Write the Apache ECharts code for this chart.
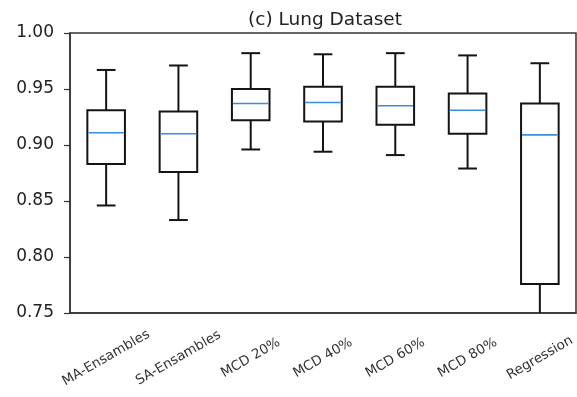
<!DOCTYPE html>
<html>
<head>
<meta charset="utf-8">
<script src="https://cdn.jsdelivr.net/npm/echarts@6/dist/echarts.min.js"></script>
<style>html,body{margin:0;padding:0;background:#fff;}#c{width:577px;height:397px;}</style>
</head>
<body>
<div id="c"></div>
<script>
const categories = ['MA-Ensambles','SA-Ensambles','MCD 20%','MCD 40%','MCD 60%','MCD 80%','Regression'];
const whiskerLow  = [0.846, 0.833, 0.896, 0.894, 0.891, 0.879, 0.700];
const q1          = [0.883, 0.876, 0.922, 0.921, 0.918, 0.910, 0.776];
const median      = [0.911, 0.910, 0.937, 0.938, 0.935, 0.931, 0.909];
const q3          = [0.931, 0.930, 0.950, 0.952, 0.952, 0.946, 0.937];
const whiskerHigh = [0.967, 0.971, 0.982, 0.981, 0.982, 0.980, 0.973];
const yTicks = [0.75, 0.80, 0.85, 0.90, 0.95, 1.00];

const boxData = categories.map((c, i) => [i, whiskerLow[i], q1[i], median[i], q3[i], whiskerHigh[i]]);

const chart = echarts.init(document.getElementById('c'), null, {renderer: 'canvas'});
const dark = '#141414';
chart.setOption({
  animation: false,
  backgroundColor: '#fff',
  title: {
    text: '(c) Lung Dataset',
    left: 320, top: 6, textAlign: 'center',
    textStyle: {fontFamily: 'DejaVu Sans', fontSize: 18.5, fontWeight: 'normal', color: '#222'}
  },
  grid: {left: 70, right: 1, top: 33, bottom: 84, outerBoundsMode: 'none', containLabel: false,
    show: true, borderColor: '#333', borderWidth: 1.5, backgroundColor: '#fff'},
  xAxis: {
    type: 'category', data: categories, boundaryGap: true,
    axisLine: {lineStyle: {color: '#333', width: 1.5}},
    axisTick: {alignWithLabel: true, length: 5, lineStyle: {color: '#333', width: 1.2}},
    axisLabel: {rotate: 30, align: 'center', verticalAlign: 'middle', margin: 45, interval: 0,
      fontFamily: 'DejaVu Sans', fontSize: 13.5, color: '#333'},
    splitLine: {show: false}
  },
  yAxis: {
    type: 'value', min: 0.75, max: 1.00, interval: 0.05,
    axisLine: {show: true, lineStyle: {color: '#333', width: 1.5}},
    axisTick: {show: true, length: 6, lineStyle: {color: '#333', width: 1.2}},
    axisLabel: {formatter: v => v.toFixed(2), fontFamily: 'DejaVu Sans', fontSize: 17, color: '#222', margin: 16},
    splitLine: {show: false}
  },
  series: [{
    type: 'custom',
    clip: true,
    data: boxData,
    renderItem: function (params, api) {
      const x = api.value(0);
      const band = api.size([1, 0])[0];
      const bw = band * 0.52, cw = band * 0.26;
      const pLo = api.coord([x, api.value(1)]);
      const pQ1 = api.coord([x, api.value(2)]);
      const pMed = api.coord([x, api.value(3)]);
      const pQ3 = api.coord([x, api.value(4)]);
      const pHi = api.coord([x, api.value(5)]);
      const cx = pMed[0];
      const ls = {stroke: dark, lineWidth: 2, fill: null};
      return {
        type: 'group',
        children: [
          {type: 'line', shape: {x1: cx, y1: pQ1[1], x2: cx, y2: pLo[1]}, style: ls},
          {type: 'line', shape: {x1: cx, y1: pQ3[1], x2: cx, y2: pHi[1]}, style: ls},
          {type: 'line', shape: {x1: cx - cw/2, y1: pLo[1], x2: cx + cw/2, y2: pLo[1]}, style: ls},
          {type: 'line', shape: {x1: cx - cw/2, y1: pHi[1], x2: cx + cw/2, y2: pHi[1]}, style: ls},
          {type: 'rect', shape: {x: cx - bw/2, y: pQ3[1], width: bw, height: pQ1[1] - pQ3[1]}, style: {stroke: dark, lineWidth: 2, fill: '#fff'}},
          {type: 'line', shape: {x1: cx - bw/2 + 1, y1: pMed[1], x2: cx + bw/2 - 1, y2: pMed[1]}, style: {stroke: '#3a8ee0', lineWidth: 1.6}}
        ]
      };
    }
  }]
});
</script>
</body>
</html>
